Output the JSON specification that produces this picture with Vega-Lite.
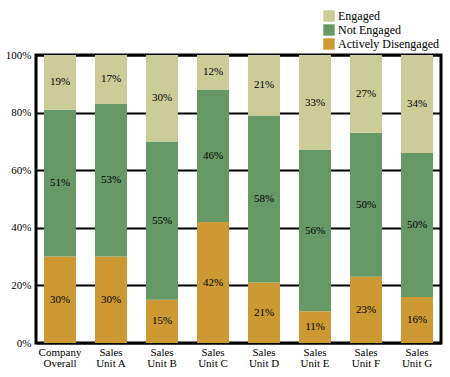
{
  "$schema": "https://vega.github.io/schema/vega-lite/v6.json",
  "autosize": {"type": "none"},
  "padding": {"left": 36, "top": 55, "right": 9, "bottom": 34},
  "width": 405,
  "height": 288,
  "background": "white",
  "config": {
    "font": "Times New Roman",
    "view": {"stroke": "black", "strokeWidth": 3},
    "axis": {"labelFont": "Times New Roman", "labelColor": "black", "labelFontSize": 11},
    "legend": {"labelFont": "Times New Roman"},
    "text": {"font": "Times New Roman"}
  },
  "data": {
    "values": [
      {"unit": "Company Overall", "status": "Actively Disengaged", "order": 1, "pct": 30},
      {"unit": "Company Overall", "status": "Not Engaged", "order": 2, "pct": 51},
      {"unit": "Company Overall", "status": "Engaged", "order": 3, "pct": 19},
      {"unit": "Sales Unit A", "status": "Actively Disengaged", "order": 1, "pct": 30},
      {"unit": "Sales Unit A", "status": "Not Engaged", "order": 2, "pct": 53},
      {"unit": "Sales Unit A", "status": "Engaged", "order": 3, "pct": 17},
      {"unit": "Sales Unit B", "status": "Actively Disengaged", "order": 1, "pct": 15},
      {"unit": "Sales Unit B", "status": "Not Engaged", "order": 2, "pct": 55},
      {"unit": "Sales Unit B", "status": "Engaged", "order": 3, "pct": 30},
      {"unit": "Sales Unit C", "status": "Actively Disengaged", "order": 1, "pct": 42},
      {"unit": "Sales Unit C", "status": "Not Engaged", "order": 2, "pct": 46},
      {"unit": "Sales Unit C", "status": "Engaged", "order": 3, "pct": 12},
      {"unit": "Sales Unit D", "status": "Actively Disengaged", "order": 1, "pct": 21},
      {"unit": "Sales Unit D", "status": "Not Engaged", "order": 2, "pct": 58},
      {"unit": "Sales Unit D", "status": "Engaged", "order": 3, "pct": 21},
      {"unit": "Sales Unit E", "status": "Actively Disengaged", "order": 1, "pct": 11},
      {"unit": "Sales Unit E", "status": "Not Engaged", "order": 2, "pct": 56},
      {"unit": "Sales Unit E", "status": "Engaged", "order": 3, "pct": 33},
      {"unit": "Sales Unit F", "status": "Actively Disengaged", "order": 1, "pct": 23},
      {"unit": "Sales Unit F", "status": "Not Engaged", "order": 2, "pct": 50},
      {"unit": "Sales Unit F", "status": "Engaged", "order": 3, "pct": 27},
      {"unit": "Sales Unit G", "status": "Actively Disengaged", "order": 1, "pct": 16},
      {"unit": "Sales Unit G", "status": "Not Engaged", "order": 2, "pct": 50},
      {"unit": "Sales Unit G", "status": "Engaged", "order": 3, "pct": 34}
    ]
  },
  "transform": [{"calculate": "datum.pct + '%'", "as": "label"}],
  "encoding": {
    "x": {
      "field": "unit",
      "type": "nominal",
      "sort": null,
      "title": null,
      "scale": {"paddingInner": 0.373, "paddingOuter": 0.157},
      "axis": {
        "labelAngle": 0,
        "domain": false,
        "ticks": false,
        "labelPadding": 3,
        "labelLineHeight": 11,
        "labelExpr": "[substring(datum.label, 0, indexof(datum.label, ' ')), substring(datum.label, indexof(datum.label, ' ') + 1)]"
      }
    },
    "y": {
      "field": "pct",
      "type": "quantitative",
      "stack": "zero",
      "title": null,
      "scale": {"domain": [0, 100], "nice": false},
      "axis": {
        "values": [0, 20, 40, 60, 80, 100],
        "labelExpr": "datum.value + '%'",
        "domain": false,
        "ticks": false,
        "labelPadding": 5,
        "grid": true,
        "gridColor": "black",
        "gridWidth": 2,
        "gridOpacity": 1
      }
    },
    "order": {"field": "order", "type": "quantitative"}
  },
  "layer": [
    {
      "mark": {"type": "bar"},
      "encoding": {
        "color": {
          "field": "status",
          "type": "nominal",
          "scale": {
            "domain": ["Engaged", "Not Engaged", "Actively Disengaged"],
            "range": ["#CCCC99", "#669966", "#CC9933"]
          },
          "legend": {
            "title": null,
            "orient": "none",
            "legendX": 287,
            "legendY": -45,
            "symbolType": "square",
            "symbolSize": 130,
            "symbolStrokeWidth": 0,
            "symbolOpacity": 1,
            "labelFont": "Times New Roman",
            "labelFontSize": 12,
            "labelColor": "black",
            "rowPadding": 2,
            "labelOffset": 3
          }
        }
      }
    },
    {
      "mark": {"type": "text", "font": "Times New Roman", "fontSize": 11, "color": "black"},
      "encoding": {
        "y": {"field": "pct", "type": "quantitative", "stack": "zero", "bandPosition": 0.5},
        "text": {"field": "label", "type": "nominal"}
      }
    }
  ]
}
